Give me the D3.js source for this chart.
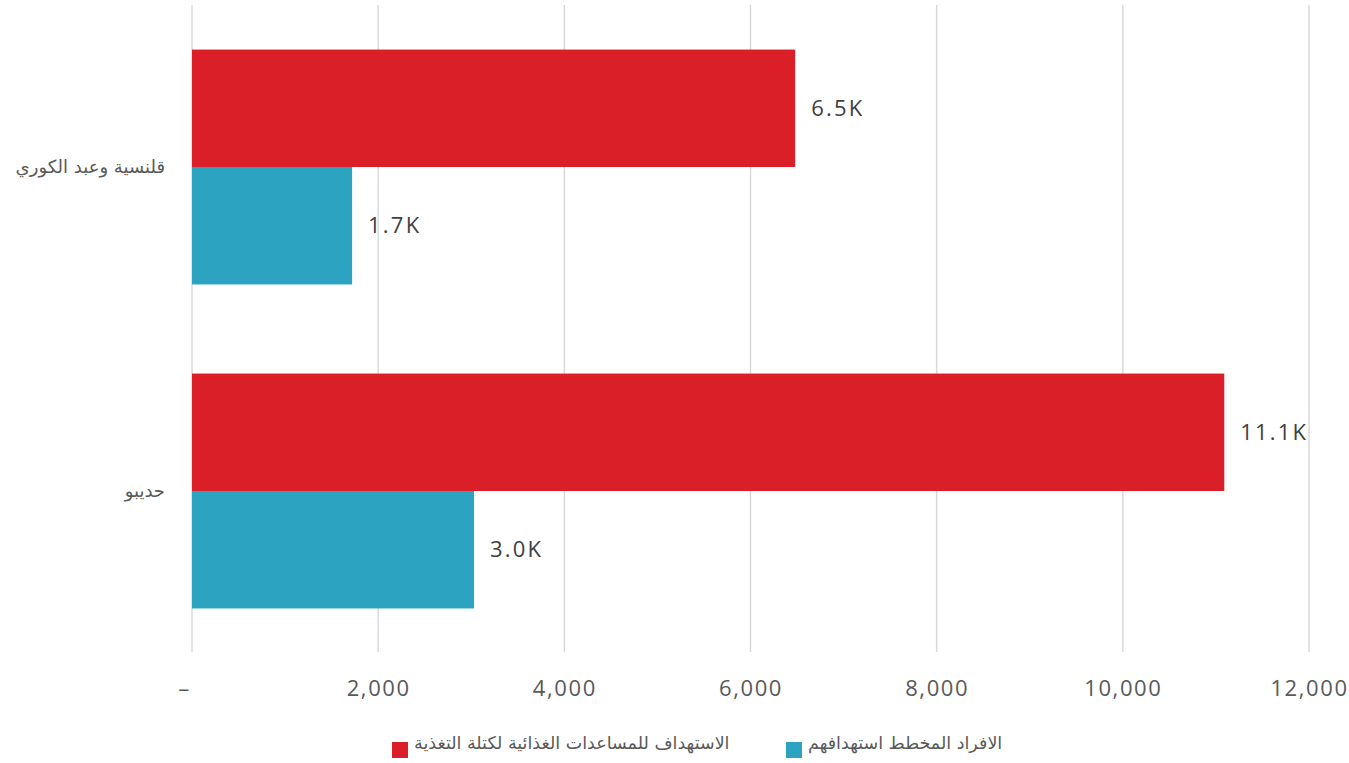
<!DOCTYPE html>
<html><head><meta charset="utf-8">
<script src="https://cdn.jsdelivr.net/npm/d3@7"></script>
<style>body{margin:0;background:#fff;}svg{display:block;}</style>
</head><body><svg id="c" width="1349" height="763"></svg>
<script>
const categories = ["قلنسية وعبد الكوري", "حديبو"];
const seriesNames = ["الاستهداف للمساعدات الغذائية لكتلة التغذية", "الافراد المخطط استهدافهم"];
const targetValues = [6480, 11090];
const plannedValues = [1720, 3030];
const xTicks = [0, 2000, 4000, 6000, 8000, 10000, 12000];
const colors = ["#DA1F28", "#2BA3C1"];

const svg = d3.select("#c");
const x = d3.scaleLinear().domain([0, 12000]).range([192, 1309]);
const y = d3.scaleBand().domain(categories).range([5, 653]).paddingInner(0.275).paddingOuter(0.1375);
const ySub = d3.scaleBand().domain([0, 1]).range([0, y.bandwidth()]);

// grid
svg.append("g").selectAll("line").data(xTicks).join("line")
  .attr("x1", d => x(d)).attr("x2", d => x(d)).attr("y1", 5).attr("y2", 652)
  .attr("stroke", "#d9d9d9").attr("stroke-width", 1.5);

// axis labels
const axis = d3.axisBottom(x).tickValues(xTicks).tickSize(0).tickPadding(0)
  .tickFormat(d => d === 0 ? "–" : d3.format(",")(d));
const ag = svg.append("g").attr("transform", "translate(0,680)").call(axis);
ag.select(".domain").remove();
ag.selectAll("text").attr("font-family", "Open Sans, sans-serif").attr("font-size", 22)
  .attr("letter-spacing", 1.6).attr("fill", "#595959").attr("dy", "0.71em");
ag.selectAll(".tick").filter(d => d === 0).select("text").attr("dx", -8);

const data = categories.map((c, i) => ({c, vals: [targetValues[i], plannedValues[i]]}));
const g = svg.append("g").selectAll("g").data(data).join("g")
  .attr("transform", d => `translate(0,${y(d.c)})`);
g.selectAll("rect").data(d => d.vals).join("rect")
  .attr("x", x(0)).attr("y", (d, i) => ySub(i))
  .attr("width", d => x(d) - x(0)).attr("height", ySub.bandwidth())
  .attr("fill", (d, i) => colors[i]);
g.selectAll("text.v").data(d => d.vals).join("text").attr("class", "v")
  .attr("x", d => x(d) + 16).attr("y", (d, i) => ySub(i) + ySub.bandwidth() / 2)
  .attr("dy", "0.35em").attr("font-family", "Open Sans, sans-serif").attr("font-size", 22)
  .attr("letter-spacing", 2.2).attr("fill", "#404040")
  .text(d => (d / 1000).toFixed(1) + "K");

// category labels
svg.append("g").selectAll("text").data(categories).join("text")
  .attr("x", 165).attr("y", d => y(d) + y.bandwidth() / 2).attr("dy", "0.35em")
  .attr("font-family", "DejaVu Sans, sans-serif").attr("font-size", 18)
  .attr("fill", "#595959").attr("direction", "rtl")
  .attr("text-anchor", "start")
  .text(d => d);

// legend
const legendItems = [{name: seriesNames[0], color: colors[0], sx: 392},
                     {name: seriesNames[1], color: colors[1], sx: 786}];
const lg = svg.append("g");
legendItems.forEach(it => {
  lg.append("rect").attr("x", it.sx).attr("y", 742).attr("width", 16).attr("height", 16).attr("fill", it.color);
  lg.append("text").attr("x", it.sx + 22).attr("y", 743).attr("dy", "0.35em")
    .attr("direction", "rtl").attr("text-anchor", "end")
    .attr("font-family", "DejaVu Sans, sans-serif").attr("font-size", 17.5).attr("fill", "#595959")
    .text(it.name);
});
</script></body></html>
